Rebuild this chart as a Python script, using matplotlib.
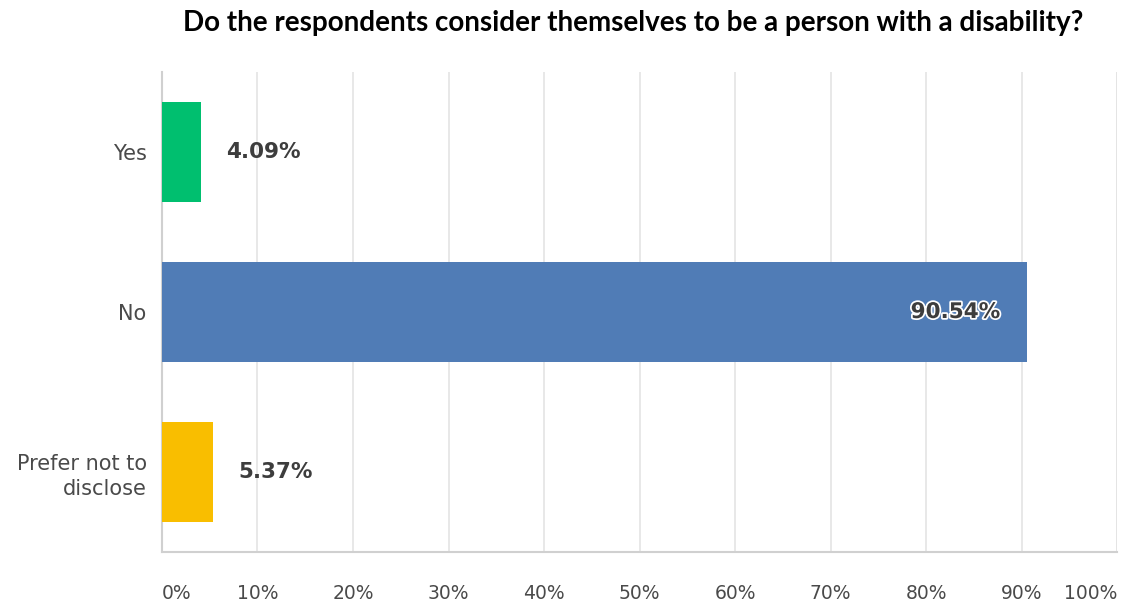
import matplotlib.pyplot as plt
import matplotlib.patheffects as pe
import numpy as np

# Data
categories = ['Yes', 'No', 'Prefer not to\ndisclose']
percentages = [4.09, 90.54, 5.37]
bar_colors = ['#00BF6F', '#507CB6', '#F9BE00']
xticks = np.arange(0, 101, 10)
xtick_labels = [f'{t}%' for t in xticks]

fig = plt.figure(figsize=(11.21, 6.05), dpi=100, facecolor='white')
ax = fig.add_axes([0.1445, 0.0876, 0.852, 0.7934])

y = np.arange(len(categories))
bars = ax.barh(y, percentages, height=0.625, color=bar_colors, zorder=3)

ax.set_xlim(0, 100)
ax.set_ylim(len(categories) - 0.5, -0.5)
ax.set_yticks(y)
ax.set_yticklabels(categories, fontsize=15, color='#4a4a4a', family='DejaVu Sans',
                   linespacing=1.3)
ax.set_xticks(xticks)
ax.set_xticklabels(xtick_labels, fontsize=13.5, color='#4a4a4a', family='DejaVu Sans')
ax.get_xticklabels()[0].set_ha('left')
ax.get_xticklabels()[-1].set_ha('right')
ax.tick_params(axis='x', length=0, pad=23)
ax.tick_params(axis='y', length=0, pad=11)

ax.grid(axis='x', color='#e4e4e4', linewidth=1.2, zorder=0)
for side in ['top', 'right']:
    ax.spines[side].set_visible(False)
for side in ['left', 'bottom']:
    ax.spines[side].set_color('#d0d0d0')
    ax.spines[side].set_linewidth(1.5)
ax.axvline(100, color='#e4e4e4', linewidth=1.2, zorder=0)

# value labels
for i, v in enumerate(percentages):
    if v > 50:
        ax.text(v - 2.8, i, f'{v:.2f}%', ha='right', va='center', fontsize=15.5,
                fontweight='semibold', color='#3d3d3d', zorder=4,
                path_effects=[pe.withStroke(linewidth=2.5, foreground='white')])
    else:
        ax.text(v + 2.6, i, f'{v:.2f}%', ha='left', va='center', fontsize=15.5,
                fontweight='semibold', color='#3d3d3d', zorder=4)

fig.text(0.5645, 0.962, 'Do the respondents consider themselves to be a person with a disability?',
         ha='center', va='center', fontsize=20, fontweight='bold', color='black',
         family='Lato')

fig.savefig('out.png', dpi=100)
